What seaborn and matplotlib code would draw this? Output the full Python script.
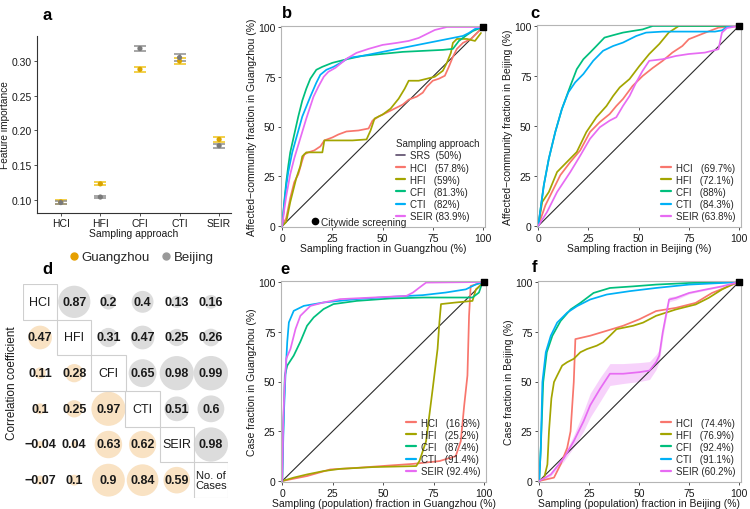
import numpy as np
import pandas as pd
import matplotlib
matplotlib.use("Agg")
import matplotlib.pyplot as plt
import seaborn as sns
from matplotlib.lines import Line2D
from matplotlib.patches import Rectangle

sns.set_style("white")
plt.rcParams['font.family'] = ['Liberation Sans', 'DejaVu Sans']
plt.rcParams['axes.unicode_minus'] = True

# ---------------- data: panel a ----------------
approaches = ["HCI", "HFI", "CFI", "CTI", "SEIR"]
imp_gz = [0.097, 0.123, 0.288, 0.300, 0.187]
imp_gz_err = [0.003, 0.002, 0.004, 0.004, 0.004]
imp_bj = [0.096, 0.104, 0.318, 0.305, 0.178]
imp_bj_err = [0.002, 0.001, 0.004, 0.005, 0.003]

# ---------------- data: panel d ----------------
corr_labels = ["HCI", "HFI", "CFI", "CTI", "SEIR", "No. of\nCases"]
# lower triangle: Guangzhou (row, col, value)
corr_gz_rows = [1, 2, 2, 3, 3, 3, 4, 4, 4, 4, 5, 5, 5, 5, 5]
corr_gz_cols = [0, 0, 1, 0, 1, 2, 0, 1, 2, 3, 0, 1, 2, 3, 4]
corr_gz_vals = [0.47, 0.11, 0.28, 0.1, 0.25, 0.97, -0.04, 0.04, 0.63, 0.62,
                -0.07, 0.1, 0.9, 0.84, 0.59]
# upper triangle: Beijing
corr_bj_rows = [0, 0, 0, 0, 0, 1, 1, 1, 1, 2, 2, 2, 3, 3, 4]
corr_bj_cols = [1, 2, 3, 4, 5, 2, 3, 4, 5, 3, 4, 5, 4, 5, 5]
corr_bj_vals = [0.87, 0.2, 0.4, 0.13, 0.16, 0.31, 0.47, 0.25, 0.26,
                0.65, 0.98, 0.99, 0.51, 0.6, 0.98]

# ---------------- data: diagonal / citywide ----------------
srs_x = [0, 100]
srs_y = [0, 100]
citywide_x = [100]
citywide_y = [100]

# ---------------- data: panel b (Guangzhou, affected communities) ----------------
b_hci_x = [0, 2, 4, 6, 8, 10, 11, 13, 16, 19, 21, 25, 28, 32, 38, 43, 45, 48, 52, 56, 60, 63, 67, 70, 72, 75, 78, 81, 83, 85, 87, 90, 94, 97, 100]
b_hci_y = [0, 4, 14, 22, 26, 33, 36, 37, 38, 40, 43, 44.5, 46, 47.5, 48, 49, 53, 55, 57, 59, 61, 63.5, 65, 67, 70, 73, 74, 75.5, 80, 85, 89, 92, 94, 97, 100]
b_hfi_x = [0, 2, 4, 6, 7, 9, 10, 12, 20, 21, 28, 35, 42, 44, 46, 50, 54, 58, 61, 63, 68, 72, 76, 80, 82, 84, 85, 87, 92, 96, 99]
b_hfi_y = [0, 2, 12, 20, 24, 30, 35, 37, 37, 43, 43, 43, 43.5, 48, 54, 56, 59, 64, 69, 73, 73, 74, 75, 78, 82, 87, 92, 94, 94, 93, 97]
b_cfi_x = [0, 1, 2, 3, 4, 6, 8, 10, 12, 14, 17, 20, 25, 33, 40, 50, 60, 70, 80, 85, 88, 92, 95, 100]
b_cfi_y = [0, 12, 22, 30, 37, 46, 55, 63, 69, 74, 78.5, 80, 82, 84, 85.5, 86.5, 87.5, 88, 88.5, 89, 93, 96, 98, 100]
b_cti_x = [0, 1, 2, 3, 5, 7.5, 10, 12, 14, 17, 19, 22, 25.6, 30, 33, 40, 50, 60, 70, 75, 80, 85, 90, 93, 96, 100]
b_cti_y = [0, 11, 20, 27, 37, 46, 55, 60, 65, 72, 76, 78.5, 80, 82.5, 84.5, 85.5, 87.5, 89.5, 91.5, 92.5, 93.5, 94.5, 95.5, 97, 99, 100]
b_seir_x = [0, 1, 2, 4, 6, 9, 12, 15.6, 18, 20.7, 23, 26.5, 32, 37, 43, 50, 57, 63, 68, 72, 76, 82, 100]
b_seir_y = [0, 8, 15, 26, 34, 44, 54, 65, 70, 75, 77.5, 79.5, 84, 87, 89, 91, 92, 93, 94.5, 96.5, 98.5, 100, 100]

# ---------------- data: panel c (Beijing, affected communities) ----------------
c_hci_x = [0, 3.6, 7.7, 11, 16, 20.9, 25.8, 30.7, 35.6, 38.9, 42.2, 47, 52, 57, 62, 66.8, 71.8, 75, 83.3, 89.8, 100]
c_hci_y = [0, 10.4, 18.7, 25.4, 32, 37.8, 47, 52, 56, 60, 63.5, 70, 75, 79, 82.6, 86.7, 90, 93.4, 96.7, 99.2, 100]
c_hfi_x = [0, 2, 5.3, 9.4, 14.3, 19.2, 24, 29, 34, 37.3, 40.6, 45.5, 50.4, 55.3, 60.3, 65, 70, 100]
c_hfi_y = [0, 12, 17, 27, 32, 37, 47, 54.4, 60, 65, 69.3, 73.5, 80, 86, 91, 96.7, 100, 100]
c_cfi_x = [0, 2.8, 5.3, 8.5, 11.8, 16, 19.2, 22.5, 25.8, 29, 33, 37.3, 42.2, 47, 52, 57, 100]
c_cfi_y = [0, 20.4, 33.7, 47, 58.5, 70, 78.4, 83.4, 86.7, 90, 94.2, 95.4, 96.7, 97.5, 98.3, 100, 100]
c_cti_x = [0, 2.8, 5.3, 8.5, 11.8, 15, 18.4, 22.5, 27.4, 32.3, 37.3, 42.2, 48.8, 53.7, 62, 75, 88, 91.5, 94.7, 100]
c_cti_y = [0, 20.4, 33.7, 47, 58.5, 66.8, 71.8, 76, 82.6, 87.6, 90, 91.7, 95, 96.7, 97.2, 97.2, 97.2, 97.8, 100, 100]
c_seir_x = [0, 4.4, 9.4, 16, 21, 25.8, 30.7, 35.6, 38.9, 42.2, 45.5, 48.8, 52, 55.3, 62, 68.5, 75, 83, 89.8, 91.5, 94, 100]
c_seir_y = [0, 7, 17, 27, 35.3, 43.6, 49.4, 52.7, 54.4, 60, 65, 71.8, 77.6, 82.6, 83.4, 85, 86, 86.7, 88.4, 96.7, 99, 100]

# ---------------- data: panel e (Guangzhou, cases) ----------------
e_hci_x = [0, 12.3, 23.8, 36.9, 53.3, 64.8, 77.9, 86, 88.5, 90.2, 91.8, 92.6, 93.4, 100]
e_hci_y = [0, 2.5, 5.8, 6.6, 7.8, 8.6, 10, 12.5, 20, 38, 53, 83, 98, 100]
e_hfi_x = [0, 5.7, 12.3, 20.5, 28.7, 45, 66.4, 68, 71.3, 74.6, 77, 77.9, 78.7, 86, 94.3, 96, 100]
e_hfi_y = [0, 1.7, 3.3, 5, 6.1, 7, 7.5, 10, 20, 46.5, 66.4, 79.7, 88.9, 89.7, 90.5, 96.3, 100]
e_cfi_x = [0, 0.5, 1.3, 2.5, 5.7, 9, 12.3, 15.6, 20.5, 25.4, 36.9, 53.3, 69.7, 94.3, 97.5, 99.2]
e_cfi_y = [0, 25, 53, 58, 63, 70, 78, 82.2, 86.4, 88.9, 90.5, 91.7, 92.2, 92.2, 94.7, 99.7]
e_cti_x = [0, 0.8, 1.6, 2.5, 3.3, 5.7, 10.7, 20.5, 36.9, 53.3, 69.7, 81, 91, 96, 100]
e_cti_y = [0, 33, 53, 70, 79.7, 85.5, 88, 89.7, 91.4, 92.5, 93.4, 94.7, 96.3, 98.8, 100]
e_seir_x = [0, 0.5, 1.1, 2, 4.1, 6.6, 9, 14, 20.5, 28.7, 45, 61.5, 64.8, 68, 71.3, 100]
e_seir_y = [0, 30, 46.5, 61.5, 66.4, 76.4, 83, 88, 89.7, 91.4, 92.2, 93, 94.7, 97.2, 99.7, 100]

# ---------------- data: panel f (Beijing, cases) ----------------
f_hci_x = [0, 7.4, 10.7, 14, 15.7, 17.3, 18.1, 25.5, 33.8, 42, 50.2, 58.5, 68.4, 78.3, 86.5, 94.7, 100]
f_hci_y = [0, 1.7, 8.3, 16.6, 25, 49.7, 71.3, 73, 75.5, 78, 81.3, 85.4, 87, 89.5, 94.5, 97.8, 100]
f_hfi_x = [0, 2.5, 4.1, 4.9, 6.1, 7.4, 9, 11.5, 14, 17.3, 20.6, 23.9, 28.8, 32, 35.4, 38.7, 47, 52, 58.5, 68.4, 78.3, 84.8, 91.4, 98]
f_hfi_y = [0, 1.7, 8.3, 25, 41.5, 49.7, 53, 58, 59.7, 61.4, 64.7, 66.3, 68, 69.7, 73, 76.3, 78, 79.6, 83, 86.2, 88.7, 92, 96.2, 99.5]
f_cfi_x = [0, 0.8, 2, 3.8, 6.6, 10.7, 15.7, 20.6, 27.2, 35.4, 47, 58.5, 75, 100]
f_cfi_y = [0, 16.6, 49.7, 64.7, 73, 80.4, 86.2, 89.5, 94.5, 97, 97.8, 98.7, 99.5, 100]
f_cti_x = [0, 0.8, 1.6, 3.3, 5.8, 9, 14, 19, 25.5, 33.8, 45.3, 58.5, 75, 91.4, 100]
f_cti_y = [0, 16.6, 49.7, 64.7, 73, 79.6, 84.6, 87.9, 91.2, 93.7, 95.4, 97, 98.7, 99.5, 100]
f_seir_x = [0, 5.8, 12.4, 17.3, 22.2, 25.5, 30.5, 35.4, 42, 50.2, 55.2, 58.5, 60.1, 61.8, 63.4, 65, 68.4, 75, 83.2, 91.4, 100]
f_seir_y = [0, 3.3, 11.6, 20, 30, 38, 46.4, 53.9, 53.9, 54.7, 55.5, 59.7, 63, 74.6, 83, 91.2, 92, 94.5, 96.2, 97.8, 100]
f_seir_lo = [0, 2.5, 10, 17, 25, 32, 40, 48, 49, 50, 51, 56, 60, 72, 81, 90, 91, 94, 95.8, 97.5, 100]
f_seir_hi = [0, 4, 13, 23, 35, 44, 52, 59, 59, 59.5, 60, 63.5, 66, 77, 85, 92.5, 93, 95, 96.6, 98.1, 100]

# ---------------- styling ----------------
pal = {"HCI": "#F8766D", "HFI": "#A3A500", "CFI": "#00BF7D",
       "CTI": "#00B0F6", "SEIR": "#E76BF3"}
GZ_COL = "#E69F00"
GZ_PT = "#D9A400"
GZ_ERR = "#F0C419"
BJ_COL = "#8E8E8E"
TXT = "#1a1a1a"
FS_TICK = 7.5
FS_LAB = 7.5
FS_LEG = 7.0
FS_PANEL = 12

fig = plt.figure(figsize=(7.5, 5.1), dpi=100)


def px_axes(left, top, right, bottom):
    return fig.add_axes([left / 750, 1 - bottom / 510, (right - left) / 750, (bottom - top) / 510])


# ---------------- panel a ----------------
ax_a = px_axes(37, 37, 231, 214)
df_a = pd.DataFrame({
    "approach": approaches * 2,
    "importance": imp_gz + imp_bj,
    "err": imp_gz_err + imp_bj_err,
    "city": ["Guangzhou"] * 5 + ["Beijing"] * 5,
})
ax_a.errorbar(approaches, imp_gz, yerr=imp_gz_err, fmt="none", ecolor=GZ_ERR,
              elinewidth=1.2, capsize=4.5, capthick=1.1, zorder=2)
ax_a.errorbar(approaches, imp_bj, yerr=imp_bj_err, fmt="none", ecolor=BJ_COL,
              elinewidth=1.2, capsize=4.5, capthick=1.1, zorder=2)
sns.scatterplot(data=df_a, x="approach", y="importance", hue="city",
                palette={"Guangzhou": GZ_PT, "Beijing": "#7a7a7a"},
                s=14, marker="o", edgecolor="none", legend=False, ax=ax_a, zorder=3)
ax_a.set_xlim(-0.6, 4.3)
ax_a.set_ylim(0.081, 0.336)
ax_a.set_yticks([0.10, 0.15, 0.20, 0.25, 0.30])
ax_a.set_yticklabels(["0.10", "0.15", "0.20", "0.25", "0.30"])
ax_a.set_xlabel("Sampling approach", fontsize=FS_LAB, color=TXT, labelpad=0)
ax_a.set_ylabel("Feature importance", fontsize=7.3, color=TXT)
ax_a.yaxis.set_label_coords(-0.138, 0.5)
for s in ["top", "right"]:
    ax_a.spines[s].set_visible(False)
for s in ["left", "bottom"]:
    ax_a.spines[s].set_color("#333333")
    ax_a.spines[s].set_linewidth(0.8)
ax_a.tick_params(axis="both", labelsize=FS_TICK, colors="#333333", labelcolor=TXT,
                 length=2.5, width=0.6, pad=1.2, bottom=True, left=True)


# ---------------- curve panels ----------------
def curve_panel(ax, curves, labels, xlabel, ylabel, with_srs=False):
    rows = []
    for m, (xs, ys) in curves.items():
        rows.append(pd.DataFrame({"x": xs, "y": ys, "method": m}))
    df = pd.concat(rows, ignore_index=True)
    sns.lineplot(x=srs_x, y=srs_y, color="#2b2b2b", lw=0.8, ax=ax, zorder=1)
    sns.lineplot(data=df, x="x", y="y", hue="method", palette=pal, estimator=None,
                 sort=False, lw=1.25, legend=False, ax=ax, zorder=2)
    ax.scatter(citywide_x, citywide_y, marker="s", color="black", s=22,
               clip_on=False, zorder=6)
    ax.set_xlim(-0.6, 101)
    ax.set_ylim(-0.5, 100.5)
    ax.set_xticks([0, 25, 50, 75, 100])
    ax.set_yticks([0, 25, 50, 75, 100])
    ax.set_xlabel(xlabel, fontsize=FS_LAB, color=TXT, labelpad=0)
    ax.set_ylabel(ylabel, fontsize=FS_LAB, color=TXT, labelpad=1)
    for s in ax.spines.values():
        s.set_color("#b5b5b5")
        s.set_linewidth(0.8)
    ax.tick_params(axis="both", labelsize=FS_TICK, colors="#333333", labelcolor=TXT,
                   length=2.5, width=0.6, pad=1.5, bottom=True, left=True)
    handles, texts = [], []
    if with_srs:
        handles.append(Line2D([], [], color="#5a4a6a", lw=1.2))
        texts.append(labels[0])
        labels = labels[1:]
    for m, lab in zip(curves.keys(), labels):
        handles.append(Line2D([], [], color=pal[m], lw=1.6))
        texts.append(lab)
    return handles, texts


def pad_label(name, pct):
    spaces = {"SRS": "  ", "HCI": "   ", "HFI": "   ", "CFI": "   ", "CTI": "   ", "SEIR": " "}
    return f"{name}{spaces[name]}({pct})"


# panel b
ax_b = px_axes(281, 27, 485, 228)
h, t = curve_panel(ax_b, {"HCI": (b_hci_x, b_hci_y), "HFI": (b_hfi_x, b_hfi_y),
                          "CFI": (b_cfi_x, b_cfi_y), "CTI": (b_cti_x, b_cti_y),
                          "SEIR": (b_seir_x, b_seir_y)},
                   [pad_label("SRS", "50%"), pad_label("HCI", "57.8%"), pad_label("HFI", "59%"),
                    pad_label("CFI", "81.3%"), pad_label("CTI", "82%"), pad_label("SEIR", "83.9%")],
                   "Sampling fraction in Guangzhou (%)",
                   "Affected\u2212community fraction in Guangzhou (%)", with_srs=True)
leg = ax_b.legend(h, t, title="Sampling approach", loc="lower right",
                  bbox_to_anchor=(1.0, 0.0), frameon=False, fontsize=FS_LEG,
                  title_fontsize=FS_LEG, handlelength=1.0, handletextpad=0.5,
                  labelspacing=0.22, borderaxespad=0.2)
leg._legend_box.align = "left"
ax_b.add_artist(leg)
leg2 = ax_b.legend([Line2D([], [], marker="o", color="black", lw=0, markersize=4.5)],
                   ["Citywide screening"], loc="lower left", bbox_to_anchor=(0.12, -0.03),
                   frameon=False, fontsize=FS_LEG + 0.3, handlelength=0.6, handletextpad=0.3,
                   borderaxespad=0.2)

# panel c
ax_c = px_axes(537, 26, 741, 228)
h, t = curve_panel(ax_c, {"HCI": (c_hci_x, c_hci_y), "HFI": (c_hfi_x, c_hfi_y),
                          "CFI": (c_cfi_x, c_cfi_y), "CTI": (c_cti_x, c_cti_y),
                          "SEIR": (c_seir_x, c_seir_y)},
                   [pad_label("HCI", "69.7%"), pad_label("HFI", "72.1%"), pad_label("CFI", "88%"),
                    pad_label("CTI", "84.3%"), pad_label("SEIR", "63.8%")],
                   "Sampling fraction in Beijing (%)",
                   "Affected\u2212community fraction in Beijing (%)")
ax_c.legend(h, t, loc="lower right", bbox_to_anchor=(1.0, 0.0), frameon=False,
            fontsize=FS_LEG, handlelength=1.0, handletextpad=0.5, labelspacing=0.22,
            borderaxespad=0.2)

# panel e
ax_e = px_axes(281, 282, 486, 483)
h, t = curve_panel(ax_e, {"HCI": (e_hci_x, e_hci_y), "HFI": (e_hfi_x, e_hfi_y),
                          "CFI": (e_cfi_x, e_cfi_y), "CTI": (e_cti_x, e_cti_y),
                          "SEIR": (e_seir_x, e_seir_y)},
                   [pad_label("HCI", "16.8%"), pad_label("HFI", "25.2%"), pad_label("CFI", "87.4%"),
                    pad_label("CTI", "91.4%"), pad_label("SEIR", "92.4%")],
                   "Sampling (population) fraction in Guangzhou (%)",
                   "Case fraction in Guangzhou (%)")
ax_e.legend(h, t, loc="lower right", bbox_to_anchor=(1.0, 0.0), frameon=False,
            fontsize=FS_LEG, handlelength=1.0, handletextpad=0.5, labelspacing=0.22,
            borderaxespad=0.2)

# panel f
ax_f = px_axes(538, 282, 741, 483)
ax_f.fill_between(f_seir_x, f_seir_lo, f_seir_hi, color=pal["SEIR"], alpha=0.3, lw=0, zorder=1)
h, t = curve_panel(ax_f, {"HCI": (f_hci_x, f_hci_y), "HFI": (f_hfi_x, f_hfi_y),
                          "CFI": (f_cfi_x, f_cfi_y), "CTI": (f_cti_x, f_cti_y),
                          "SEIR": (f_seir_x, f_seir_y)},
                   [pad_label("HCI", "74.4%"), pad_label("HFI", "76.9%"), pad_label("CFI", "92.4%"),
                    pad_label("CTI", "91.1%"), pad_label("SEIR", "60.2%")],
                   "Sampling (population) fraction in Beijing (%)",
                   "Case fraction in Beijing (%)")
ax_f.legend(h, t, loc="lower right", bbox_to_anchor=(1.0, 0.0), frameon=False,
            fontsize=FS_LEG, handlelength=1.0, handletextpad=0.5, labelspacing=0.22,
            borderaxespad=0.2)

# ---------------- panel d ----------------
ax_d = px_axes(23, 285, 228, 499)
df_d = pd.DataFrame({
    "row": corr_gz_rows + corr_bj_rows,
    "col": corr_gz_cols + corr_bj_cols,
    "val": corr_gz_vals + corr_bj_vals,
    "city": ["Guangzhou"] * len(corr_gz_vals) + ["Beijing"] * len(corr_bj_vals),
})
df_d["mag"] = df_d["val"].abs()
sns.scatterplot(data=df_d, x="col", y="row", hue="city", size="mag",
                sizes=(0, 620), size_norm=(0, 1),
                palette={"Guangzhou": "#F9E2C3", "Beijing": "#DCDCDC"},
                edgecolor="none", legend=False, ax=ax_d, zorder=1)
for r, c, v in zip(df_d["row"], df_d["col"], df_d["val"]):
    ax_d.text(c, r, f"{v:g}".replace("-", "\u2212"), ha="center", va="center",
              fontsize=9, fontweight="bold", color=TXT, zorder=3)
for i, lab in enumerate(corr_labels):
    ax_d.add_patch(Rectangle((i - 0.5, i - 0.5), 1, 1, fill=False,
                             edgecolor="#cfcfcf", lw=0.8, zorder=2))
    ax_d.text(i, i, lab, ha="center", va="center",
              fontsize=9 if i < 5 else 8, color=TXT, zorder=3, linespacing=1.0)
ax_d.set_xlim(-0.5, 5.5)
ax_d.set_ylim(5.5, -0.5)
ax_d.axis("off")

fig.text(12 / 750, 1 - 383 / 510, "Correlation coefficient", rotation=90,
         ha="center", va="center", fontsize=8.5, color=TXT)

fig.legend([Line2D([], [], marker="o", color=GZ_COL, lw=0, markersize=5),
            Line2D([], [], marker="o", color="#999999", lw=0, markersize=5)],
           ["Guangzhou", "Beijing"], loc="center left",
           bbox_to_anchor=(58 / 750, 1 - 258 / 510), ncol=2, frameon=False,
           fontsize=9.5, handlelength=0.7, handletextpad=0.2, columnspacing=0.9)

# ---------------- panel letters ----------------
for lab, x, y in [("a", 47, 15), ("b", 287, 14), ("c", 535, 14),
                  ("d", 47, 270), ("e", 285, 270), ("f", 535, 268)]:
    fig.text(x / 750, 1 - y / 510, lab, ha="center", va="center",
             fontsize=FS_PANEL, fontweight="bold", color="black")

fig.savefig("out.png", dpi=100)
